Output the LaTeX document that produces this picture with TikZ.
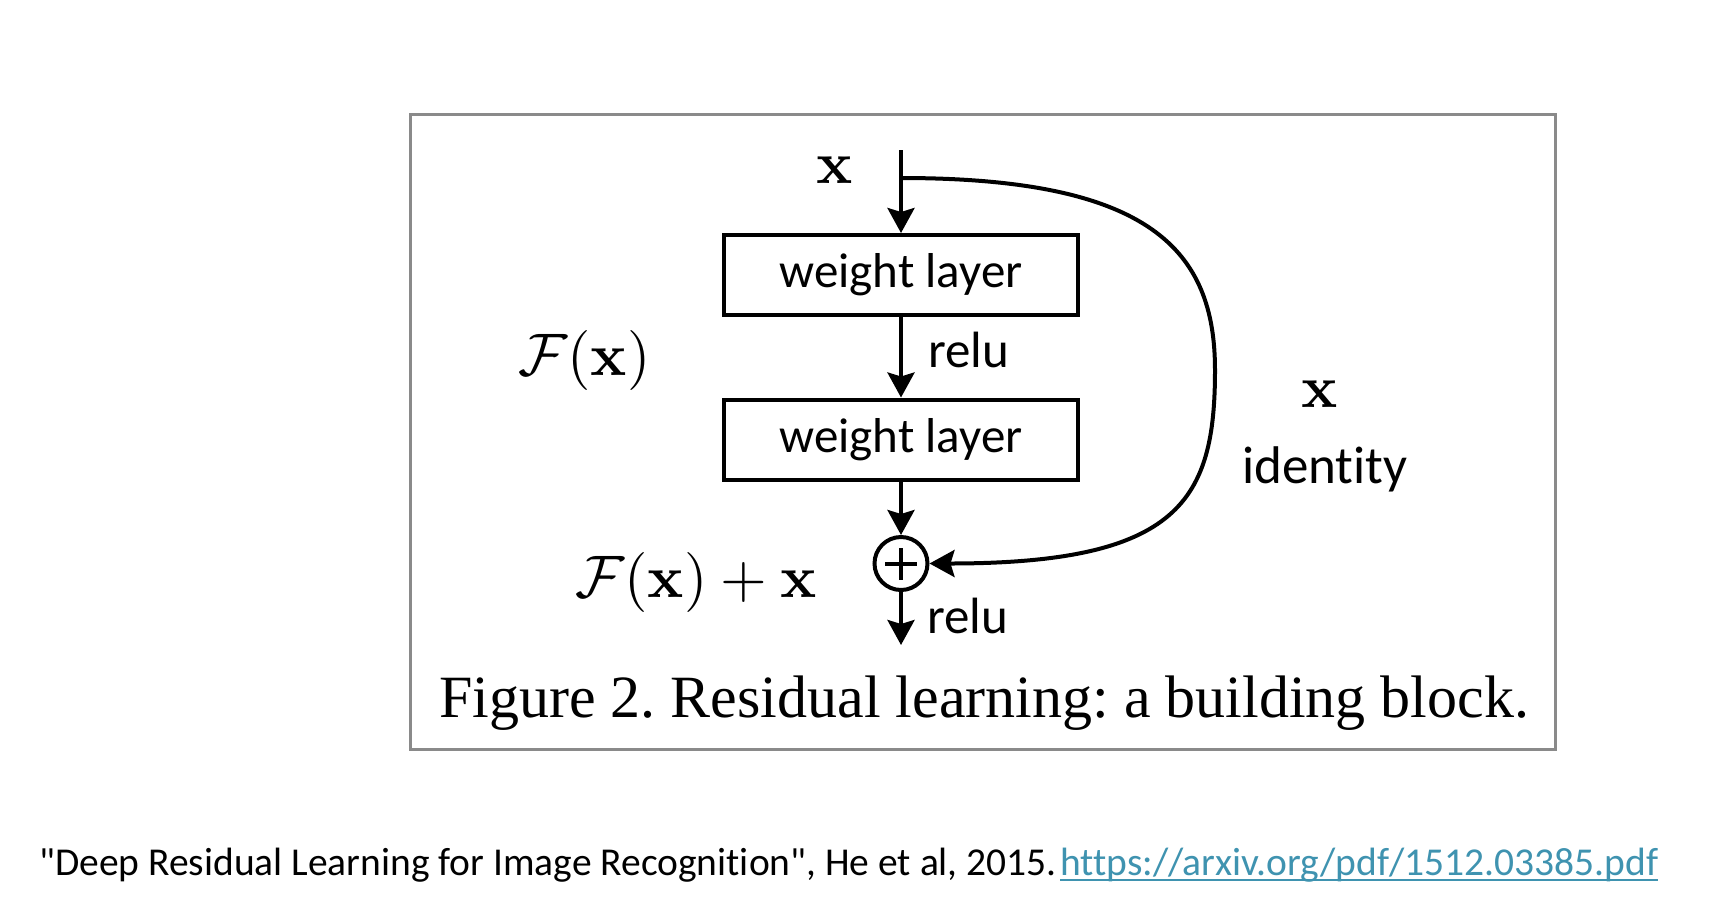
\documentclass[tikz,border=0pt]{standalone}
\usepackage[no-math]{fontspec}
\setmainfont[Ligatures={NoCommon}]{Carlito}
\newfontfamily\citefont[Ligatures={NoCommon}]{Carlito}
\newfontfamily\capfont{Liberation Serif}
\usetikzlibrary{arrows.meta}
\definecolor{framegray}{HTML}{8A8A8A}
\definecolor{linkcol}{HTML}{3F93B0}
\newcommand{\bigmath}[1]{\scalebox{6}{$#1$}}
\frenchspacing
\tikzset{
  lw/.style={line width=4pt},
  arr/.style={lw, -{Stealth[length=25pt,width=27pt,inset=4pt]}},
  wl/.style={draw, lw, minimum width=354pt, minimum height=80pt, inner sep=0pt,
             font=\fontsize{49}{58}\selectfont},
  addnode/.style={draw, lw, circle, minimum size=53pt, inner sep=0pt,
     path picture={\draw[lw] ([xshift=-16pt]path picture bounding box.center) -- ([xshift=16pt]path picture bounding box.center);
                   \draw[lw] ([yshift=-16pt]path picture bounding box.center) -- ([yshift=16pt]path picture bounding box.center);}},
  mathlbl/.style={inner sep=0pt, font=\fontsize{10}{12}\selectfont},
  callbl/.style={inner sep=0pt, font=\fontsize{51}{60}\selectfont},
  caplbl/.style={inner sep=0pt, font=\capfont\fontsize{60}{72}\selectfont},
  citelbl/.style={inner sep=0pt, font=\citefont\fontsize{39.5}{47}\selectfont},
}
\begin{document}
\begin{tikzpicture}[x=1pt,y=-1pt]
\useasboundingbox (0,0) rectangle (1730,898);
\fill[white] (0,0) rectangle (1730,898);
% frame
\draw[framegray, line width=3pt] (410,114) rectangle (1555,749);
% main chain
\coordinate (xin) at (901,150);
\coordinate (branch) at (901,178);
\node[wl] (w1) at (901,275) {weight layer};
\node[wl] (w2) at (901,439.5) {weight layer};
\node[addnode] (add) at (901,563.5) {};
\coordinate (xout) at (901,645);
\draw[arr] (xin) -- (w1);
\draw[arr] (w1) -- (w2);
\draw[arr] (w2) -- (add);
\draw[arr] (add) -- (xout);
\draw[arr] (branch) .. controls (1150,178) and (1215,250) .. (1215,370)
   .. controls (1215,500) and (1180,563.5) .. (add.east);
% labels
\node[mathlbl, anchor=base] (xtop) at (835,183) {\bigmath{\mathbf{x}}};
\node[mathlbl, anchor=base west] (fx) at (518,375) {\bigmath{\mathcal{F}(\mathbf{x})}};
\node[callbl, anchor=base west] (relu1) at (928,367) {relu};
\node[callbl, anchor=base west] (relu2) at (927,633) {relu};
\node[mathlbl, anchor=base west] (fxx) at (575,597) {\bigmath{\mathcal{F}(\mathbf{x})+\mathbf{x}}};
\node[mathlbl, anchor=base] (xr) at (1320,407) {\bigmath{\mathbf{x}}};
\node[callbl, anchor=base west, font=\fontsize{53}{62}\selectfont] (ident) at (1242,483) {identity};
\node[caplbl, anchor=base west] (cap) at (439,717) {Figure 2. Residual learning: a building block.};
% citation
\node[citelbl, anchor=base west] (cite) at (39,875) {"Deep Residual Learning for Image Recognition", He et al, 2015.};
\node[citelbl, anchor=base west, text=linkcol] (link) at ([xshift=3pt]cite.base east) {https://arxiv.org/pdf/1512.03385.pdf};
\draw[linkcol, line width=2.5pt] ([yshift=-5pt]link.base west) -- ([yshift=-5pt]link.base east);
\end{tikzpicture}
\end{document}
